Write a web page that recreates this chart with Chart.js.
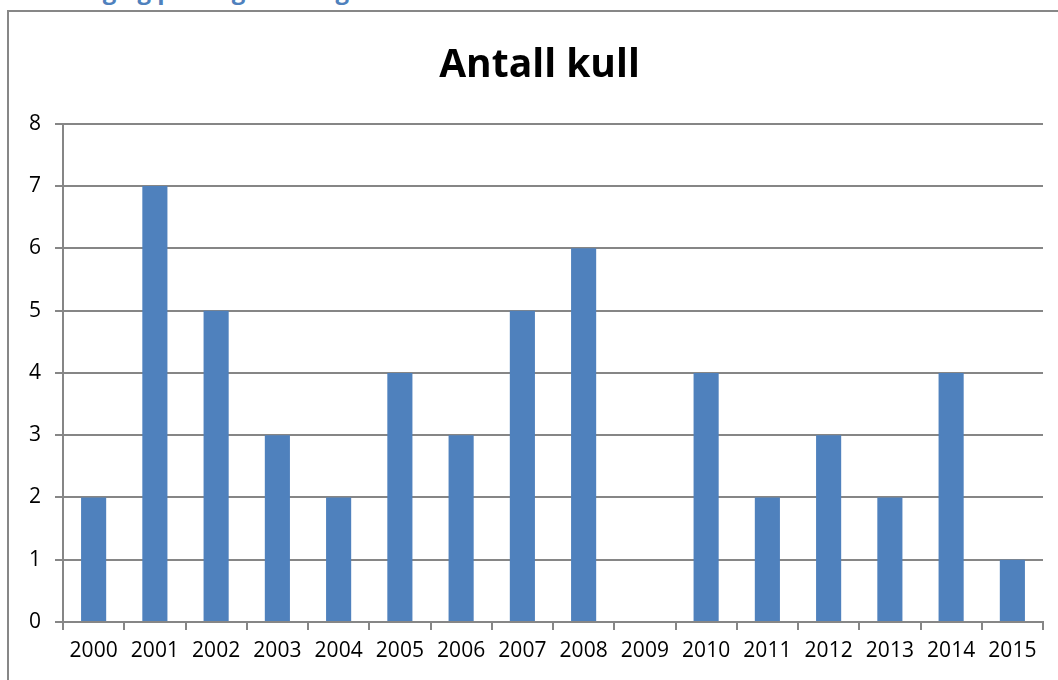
<!DOCTYPE html>
<html>
<head>
<meta charset="utf-8">
<script src="https://cdn.jsdelivr.net/npm/chart.js@4"></script>
<style>
  html, body { margin: 0; padding: 0; background: #fff; overflow: hidden; }
  #wrap { position: relative; width: 1058px; height: 680px; }
  #heading { position: absolute; left: 8px; top: -27px; font: bold 24px "Open Sans", sans-serif; color: #4F81BD; white-space: nowrap; }
  #frame { position: absolute; left: 7px; top: 10px; width: 1100px; height: 720px; border: 2px solid #878787; box-sizing: border-box; pointer-events: none; }
  canvas { position: absolute; left: 0; top: 0; }
</style>
</head>
<body>
<div id="wrap">
  <div id="heading">Utvikling og parringer i Norge siden 2000</div>
  <div id="frame"></div>
  <canvas id="chart" width="1058" height="680"></canvas>
</div>
<script>
var years = ['2000','2001','2002','2003','2004','2005','2006','2007','2008','2009','2010','2011','2012','2013','2014','2015'];
var kull = [2, 7, 5, 3, 2, 4, 3, 5, 6, 0, 4, 2, 3, 2, 4, 1];
var yTicks = [0, 1, 2, 3, 4, 5, 6, 7, 8];

var gridColor = '#868686';
var fontFamily = '"Open Sans", "Liberation Sans", sans-serif';

// title in the original sits a bit right of the canvas centre
var shiftTitle = {
    id: 'shiftTitle',
    afterLayout: function(chart) {
        if (chart.titleBlock) {
            chart.titleBlock.left += 18;
            chart.titleBlock.right += 18;
        }
    }
};

new Chart(document.getElementById('chart'), {
    type: 'bar',
    data: {
        labels: years,
        datasets: [{
            label: 'Antall kull',
            data: kull,
            backgroundColor: '#4F81BD',
            barPercentage: 0.41,
            categoryPercentage: 1.0
        }]
    },
    options: {
        responsive: false,
        animation: false,
        layout: { padding: { left: 0, right: 15, top: 0, bottom: 0 } },
        plugins: {
            legend: { display: false },
            tooltip: { enabled: false },
            title: {
                display: true,
                text: 'Antall kull',
                color: '#000',
                font: { family: fontFamily, size: 39, weight: 'bold' },
                padding: { top: 42, bottom: 35 }
            }
        },
        scales: {
            x: {
                grid: { offset: true, drawOnChartArea: false, tickLength: 8, color: gridColor, lineWidth: 2 },
                border: { color: gridColor, width: 2 },
                ticks: { color: '#000', font: { family: fontFamily, size: 21 }, padding: 8, maxRotation: 0, autoSkip: false },
                afterFit: function(scale) { scale.height = 58; }
            },
            y: {
                min: 0,
                max: 8,
                afterBuildTicks: function(scale) { scale.ticks = yTicks.map(function(v) { return { value: v }; }); },
                grid: { tickLength: 8, color: gridColor, lineWidth: 2 },
                border: { color: gridColor, width: 2 },
                ticks: { color: '#000', font: { family: fontFamily, size: 21 }, padding: 14 },
                afterFit: function(scale) { scale.width = 63; }
            }
        }
    },
    plugins: [shiftTitle]
});
</script>
</body>
</html>
